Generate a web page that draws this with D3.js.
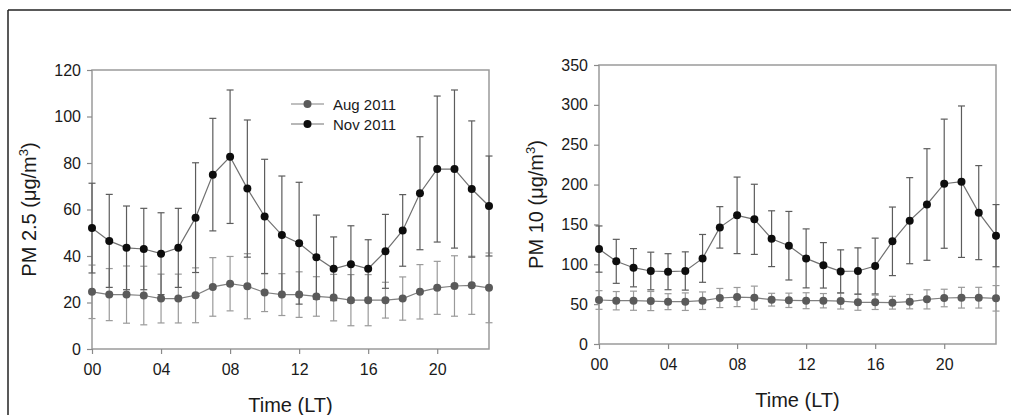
<!DOCTYPE html>
<html>
<head>
<meta charset="utf-8">
<script src="https://cdn.jsdelivr.net/npm/d3@7"></script>
<style>
  html, body { margin: 0; padding: 0; background: #fff; }
  svg { display: block; font-family: "Liberation Sans", Arial, sans-serif; }
</style>
</head>
<body>
<svg id="chart" width="1011" height="415"></svg>
<script>
// Hour of day (local time)
const hours = d3.range(0, 24);
const hourTicks = [0, 4, 8, 12, 16, 20];
const hourTickLabels = ["00", "04", "08", "12", "16", "20"];

// PM2.5 hourly means and standard deviations (µg/m³)
const pm25Aug = [24.6, 23.4, 23.4, 23.0, 21.7, 21.7, 23.1, 26.7, 28.1, 27.0, 24.3, 23.4,
                 23.4, 22.6, 22.1, 21.0, 21.0, 21.0, 21.7, 24.6, 26.3, 27.1, 27.4, 26.3];
const pm25AugSd = [11.5, 11.2, 12.3, 12.6, 10.5, 10.5, 11.8, 12.6, 11.7, 14.0, 8.2, 9.0,
                   9.8, 8.5, 10.0, 11.0, 11.0, 7.7, 9.3, 11.7, 11.4, 13.0, 12.5, 15.0];
const pm25Nov = [52.0, 46.5, 43.5, 43.0, 41.0, 43.5, 56.5, 75.0, 82.7, 69.0, 57.0, 49.0,
                 45.5, 39.5, 34.5, 36.5, 34.5, 42.0, 51.0, 67.0, 77.4, 77.4, 68.8, 61.5];
const pm25NovSd = [19.3, 20.0, 18.0, 17.5, 17.6, 17.0, 23.6, 24.2, 28.7, 29.5, 24.6, 25.4,
                   26.2, 18.1, 13.7, 16.5, 12.5, 15.9, 15.4, 24.3, 31.4, 34.0, 29.3, 21.5];

// PM10 hourly means and standard deviations (µg/m³)
const pm10Aug = [55.2, 54.3, 54.3, 53.9, 53.1, 53.1, 54.3, 57.7, 58.9, 58.1, 55.6, 54.8,
                 54.3, 54.3, 53.9, 52.3, 52.3, 51.8, 53.1, 56.0, 57.7, 58.1, 58.1, 57.3];
const pm10AugSd = [11.7, 11.5, 12.0, 12.0, 10.0, 11.0, 11.0, 12.0, 12.0, 14.5, 8.0, 9.0,
                   10.0, 9.0, 10.0, 10.0, 9.0, 8.0, 9.0, 12.0, 11.0, 13.0, 13.0, 16.0];
const pm10Nov = [119.1, 103.7, 95.7, 91.6, 90.7, 91.6, 107.4, 146.3, 161.4, 156.4, 132.1, 123.3,
                 107.4, 98.7, 91.1, 91.6, 97.8, 128.8, 154.7, 175.0, 201.1, 203.6, 164.8, 135.9];
const pm10NovSd = [29.0, 27.6, 24.0, 23.6, 22.6, 24.0, 30.0, 26.0, 48.0, 44.0, 35.0, 43.0,
                   37.0, 28.5, 27.0, 29.0, 35.0, 43.0, 54.0, 70.0, 81.0, 95.0, 59.0, 39.0];

const yTicks25 = [0, 20, 40, 60, 80, 100, 120];
const yTicks10 = [0, 50, 100, 150, 200, 250, 300, 350];

const seriesNames = ["Aug 2011", "Nov 2011"];

const svg = d3.select("#chart");

// outer frame (top and left edges)
svg.append("line").attr("x1", 8).attr("y1", 10).attr("x2", 1011).attr("y2", 10)
  .attr("stroke", "#222").attr("stroke-width", 1.5);
svg.append("line").attr("x1", 8).attr("y1", 10).attr("x2", 8).attr("y2", 415)
  .attr("stroke", "#222").attr("stroke-width", 1.5);

const styles = {
  aug: { fill: "#5a5a5a", bar: "#9a9a9a", line: "#808080" },
  nov: { fill: "#0d0d0d", bar: "#5c5c5c", line: "#707070" }
};

function panel(opt) {
  const g = svg.append("g");
  const x = d3.scaleLinear().domain([0, 23]).range([opt.left, opt.right]);
  const y = d3.scaleLinear().domain([0, opt.yMax]).range([opt.bottom, opt.top]);

  // plot box
  g.append("rect")
    .attr("x", opt.left).attr("y", opt.top)
    .attr("width", opt.right - opt.left).attr("height", opt.bottom - opt.top)
    .attr("fill", "none").attr("stroke", "#9a9a9a").attr("stroke-width", 1.5);

  // axes
  const yAxis = d3.axisLeft(y).tickValues(opt.yTicks).tickSize(5).tickPadding(6);
  const gy = g.append("g").attr("transform", `translate(${opt.left},0)`).call(yAxis);
  const xAxis = d3.axisBottom(x).tickValues(hourTicks)
    .tickFormat((d, i) => hourTickLabels[i]).tickSize(5).tickPadding(10);
  const gx = g.append("g").attr("transform", `translate(0,${opt.bottom})`).call(xAxis);
  [gx, gy].forEach(a => {
    a.select(".domain").remove();
    a.selectAll(".tick line").attr("stroke", "#8a8a8a").attr("stroke-width", 1.2);
    a.selectAll(".tick text").attr("fill", "#1a1a1a")
      .style("font-size", "16px").style("font-family", "Liberation Sans, Arial, sans-serif");
  });

  // series: Aug first, Nov on top
  const series = [
    { mean: opt.aug, sd: opt.augSd, st: styles.aug },
    { mean: opt.nov, sd: opt.novSd, st: styles.nov }
  ];
  series.forEach(s => {
    const eb = g.append("g");
    hours.forEach(h => {
      const cx = x(h);
      const lo = y(Math.max(0, s.mean[h] - s.sd[h]));
      const hi = y(s.mean[h] + s.sd[h]);
      eb.append("line").attr("x1", cx).attr("x2", cx).attr("y1", lo).attr("y2", hi)
        .attr("stroke", s.st.bar).attr("stroke-width", 1.2);
      [lo, hi].forEach(yy => eb.append("line")
        .attr("x1", cx - 3.5).attr("x2", cx + 3.5).attr("y1", yy).attr("y2", yy)
        .attr("stroke", s.st.bar).attr("stroke-width", 1.2));
    });
    g.append("path")
      .datum(hours)
      .attr("d", d3.line().x(h => x(h)).y(h => y(s.mean[h])))
      .attr("fill", "none").attr("stroke", s.st.line).attr("stroke-width", 1.2);
    g.append("g").selectAll("circle").data(hours).join("circle")
      .attr("cx", h => x(h)).attr("cy", h => y(s.mean[h])).attr("r", 4)
      .attr("fill", s.st.fill);
  });

  // axis titles
  const yt = g.append("text")
    .attr("transform", `translate(${opt.yTitleX},${(opt.top + opt.bottom) / 2}) rotate(-90)`)
    .attr("text-anchor", "middle").attr("fill", "#1a1a1a").style("font-size", "20px");
  yt.append("tspan").text(opt.yTitle + " (μg/m");
  yt.append("tspan").text("3").attr("dy", -8).style("font-size", "13px");
  yt.append("tspan").text(")").attr("dy", 8);

  g.append("text")
    .attr("x", (opt.left + opt.right) / 2).attr("y", opt.bottom + 63)
    .attr("text-anchor", "middle").attr("fill", "#1a1a1a").style("font-size", "20px")
    .text("Time (LT)");

  return { g, x, y };
}

panel({
  left: 92, right: 489, top: 70, bottom: 349, yMax: 120, yTicks: yTicks25,
  aug: pm25Aug, augSd: pm25AugSd, nov: pm25Nov, novSd: pm25NovSd,
  yTitle: "PM 2.5", yTitleX: 36
});

panel({
  left: 599, right: 996, top: 65, bottom: 344, yMax: 350, yTicks: yTicks10,
  aug: pm10Aug, augSd: pm10AugSd, nov: pm10Nov, novSd: pm10NovSd,
  yTitle: "PM 10", yTitleX: 543
});

// legend
const legend = svg.append("g");
const legendStyles = [styles.aug, styles.nov];
seriesNames.forEach((name, i) => {
  const ly = 104 + i * 20;
  legend.append("line").attr("x1", 291).attr("x2", 324).attr("y1", ly).attr("y2", ly)
    .attr("stroke", legendStyles[i].line).attr("stroke-width", 1.2);
  legend.append("circle").attr("cx", 307.5).attr("cy", ly).attr("r", 4)
    .attr("fill", legendStyles[i].fill);
  legend.append("text").attr("x", 333).attr("y", ly + 5.5)
    .attr("fill", "#1a1a1a").style("font-size", "15px").text(name);
});
</script>
</body>
</html>
